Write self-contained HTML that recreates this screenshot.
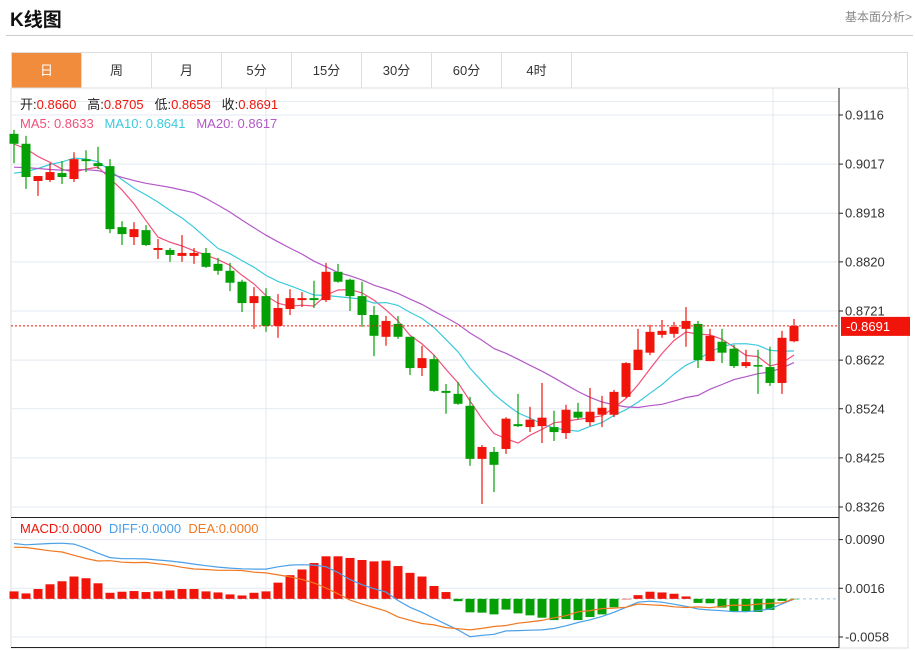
<!DOCTYPE html>
<html><head><meta charset="utf-8">
<style>
body{margin:0;background:#fff;font-family:"Liberation Sans","Noto Sans CJK SC",sans-serif;}
#wrap{position:relative;width:915px;height:650px;overflow:hidden;}
.title{position:absolute;left:10px;top:5px;font-size:19px;font-weight:bold;color:#111;}
.more{position:absolute;right:3px;top:8px;font-size:12px;color:#888;}
.sep{position:absolute;left:6px;top:35px;width:907px;height:1px;background:#ccc;}
.tabs{position:absolute;left:11px;top:52px;width:897px;height:35px;border:1px solid #ddd;border-bottom:none;box-sizing:border-box;display:flex;}
.tab{width:70px;height:35px;border-right:1px solid #ddd;box-sizing:border-box;text-align:center;line-height:35px;font-size:13px;color:#333;}
.tab.on{background:#f08c3c;color:#fff;}
svg{position:absolute;left:0;top:0;}
</style></head><body>
<div id="wrap">
<div class="title">K线图</div>
<div class="more">基本面分析&gt;</div>
<div class="sep"></div>
<div class="tabs">
<div class="tab on">日</div>
<div class="tab">周</div>
<div class="tab">月</div>
<div class="tab">5分</div>
<div class="tab">15分</div>
<div class="tab">30分</div>
<div class="tab">60分</div>
<div class="tab">4时</div>
</div>
<svg id="chart" width="915" height="650"></svg>
</div>
<script>
const opens=[.9078,.9058,.8983,.8985,.8999,.8987,.9027,.9019,.9013,.8890,.8870,.8884,.8844,.8844,.8832,.8832,.8838,.8816,.8802,.8780,.8737,.8751,.8691,.8725,.8743,.8747,.8743,.8800,.8784,.8751,.8713,.8669,.8695,.8669,.8606,.8624,.8560,.8554,.8530,.8423,.8437,.8443,.8493,.8487,.8489,.8487,.8475,.8518,.8497,.8512,.8512,.8548,.8602,.8637,.8673,.8675,.8685,.8695,.8620,.8659,.8645,.8610,.8612,.8608,.8576,.8660];
const highs=[.9086,.9074,.8993,.9019,.9023,.9041,.9045,.9052,.9027,.8902,.8900,.8894,.8866,.8848,.8874,.8848,.8848,.8828,.8818,.8784,.8769,.8767,.8755,.8765,.8759,.8782,.8818,.8816,.8786,.8780,.8731,.8711,.8711,.8669,.8651,.8632,.8574,.8578,.8548,.8451,.8447,.8507,.8554,.8528,.8576,.8520,.8532,.8536,.8566,.8550,.8562,.8618,.8685,.8693,.8703,.8699,.8729,.8701,.8685,.8685,.8653,.8643,.8643,.8649,.8681,.8705];
const lows=[.9019,.8967,.8953,.8981,.8977,.8981,.9001,.9007,.8878,.8854,.8854,.8852,.8826,.8820,.8820,.8816,.8808,.8794,.8761,.8719,.8685,.8679,.8667,.8713,.8729,.8727,.8739,.8778,.8721,.8689,.8630,.8651,.8665,.8592,.8590,.8558,.8514,.8532,.8409,.8332,.8356,.8433,.8487,.8477,.8455,.8459,.8463,.8502,.8489,.8487,.8507,.8546,.8602,.8632,.8667,.8667,.8649,.8606,.8620,.8616,.8606,.8606,.8554,.8570,.8554,.8658];
const closes=[.9058,.8991,.8993,.9001,.8991,.9027,.9023,.9013,.8886,.8876,.8886,.8854,.8848,.8834,.8838,.8838,.8810,.8802,.8778,.8737,.8751,.8691,.8727,.8747,.8747,.8743,.8800,.8780,.8751,.8713,.8671,.8701,.8669,.8606,.8626,.8560,.8556,.8534,.8423,.8447,.8411,.8504,.8489,.8502,.8506,.8477,.8522,.8506,.8518,.8526,.8558,.8616,.8643,.8679,.8681,.8689,.8701,.8622,.8671,.8637,.8610,.8618,.8610,.8576,.8667,.8691];
const priorCloses=[.9010,.9030,.9040,.9020,.9000,.9030,.9050,.9020,.9010,.9020,.8960,.8930,.8920,.8940,.8950,.9040,.9070,.9060,.9060];
const priceTicks=[0.9116,0.9017,0.8918,0.8820,0.8721,0.8622,0.8524,0.8425,0.8326];
const macdHist=[.00113,.00082,.00149,.00221,.00267,.00339,.00313,.00236,.00092,.00108,.00118,.00103,.00113,.00128,.00149,.00149,.00113,.00097,.00067,.00051,.00092,.00113,.00246,.00359,.00446,.00544,.00646,.00646,.00621,.00590,.00569,.00580,.00498,.00395,.00339,.00195,.00103,-.00036,-.00205,-.00210,-.00236,-.00164,-.00221,-.00251,-.00287,-.00323,-.00308,-.00323,-.00277,-.00236,-.00128,0,.00056,.00108,.00097,.00077,.00036,-.00062,-.00067,-.00133,-.00200,-.00190,-.00200,-.00169,-.00031,-.00005];
const diffLine=[.00841,.00821,.00831,.00841,.00846,.00831,.0077,.00693,.00626,.0061,.0061,.00605,.0059,.00575,.00554,.00528,.00503,.00482,.00467,.00457,.00451,.00451,.00487,.00513,.00518,.00513,.00487,.004,.00292,.00215,.00154,.00103,-.00026,-.00128,-.00205,-.00298,-.00385,-.00472,-.00575,-.00554,-.00539,-.00487,-.00482,-.00477,-.00472,-.00451,-.0041,-.00359,-.00318,-.00267,-.00205,-.00128,-.00051,-.00036,-.00051,-.00082,-.00113,-.00154,-.00169,-.0018,-.00195,-.00195,-.0018,-.00154,-.00077,-.00005];
const deaLine=[.00784,.0078,.00756,.0073,.00712,.00661,.00613,.00575,.0058,.00556,.00551,.00553,.00533,.00511,.00479,.00453,.00446,.00433,.00433,.00431,.00405,.00394,.00364,.00333,.00295,.00241,.00164,.00077,-.00019,-.0008,-.00131,-.00187,-.00275,-.00326,-.00375,-.00396,-.00437,-.00454,-.00472,-.00449,-.00421,-.00405,-.00371,-.00351,-.00328,-.00289,-.00256,-.00197,-.00179,-.00149,-.00141,-.00128,-.00079,-.0009,-.001,-.00121,-.00131,-.00123,-.00135,-.00113,-.00095,-.001,-.0008,-.00069,-.00061,-.00002];
const macdTicks=[0.0090,0.0016,-0.0058];

const svg=document.getElementById('chart');
const NS='http://www.w3.org/2000/svg';
function mk(tag,attrs,parent){const e=document.createElementNS(NS,tag);for(const k in attrs)e.setAttribute(k,attrs[k]);(parent||svg).appendChild(e);return e;}
const L=11,R=839;
const xOf=i=>14+12*i;
const yP=p=>115+(0.9116-p)/0.0790*392;
const yM=v=>588.3-(v-0.0016)/0.0074*48.7;
const RED='#f0140a',GREEN='#05a005';

// frame
let e=mk('rect',{x:11,y:88,width:897,height:560,fill:'none',stroke:'#ddd'});

// gridlines
priceTicks.forEach(t=>{const g=mk('line',{x1:L,x2:R,y1:yP(t),y2:yP(t),stroke:'#e3eaf0'});
});
macdTicks.forEach(t=>{const g=mk('line',{x1:L,x2:R,y1:yM(t),y2:yM(t),stroke:'#e3eaf0'});
});
[266,773].forEach(x=>{const g=mk('line',{x1:x,x2:x,y1:88,y2:648,stroke:'#e3eaf0'});
});
e=mk('line',{x1:L,x2:R,y1:101.5,y2:101.5,stroke:'#e3eaf0'});


// MAs
function ma(n){const all=priorCloses.concat(closes);return closes.map((c,i)=>{const j=i+priorCloses.length;let s=0;for(let k=j-n+1;k<=j;k++)s+=all[k];return s/n;});}
[[5,'#f0507a','ma5-line'],[10,'#3ccadc','ma10-line'],[20,'#b458c8','ma20-line']].forEach(([n,c,name])=>{
const v=ma(n);const p=mk('polyline',{points:v.map((m,i)=>xOf(i)+','+yP(m).toFixed(1)).join(' '),fill:'none',stroke:c,'stroke-width':1.2});
});

// candles
closes.forEach((c,i)=>{
const o=opens[i],up=c>=o,col=up?RED:GREEN,x=xOf(i);
const w=mk('line',{x1:x,x2:x,y1:yP(highs[i]),y2:yP(lows[i]),stroke:col,'stroke-width':1.2});

const top=yP(Math.max(o,c)),h=Math.max(1.5,yP(Math.min(o,c))-top);
const b=mk('rect',{x:x-4.5,y:top,width:9,height:h,fill:col});

});

// last price line
const lastP=closes[closes.length-1];
e=mk('line',{x1:L,x2:R,y1:yP(lastP),y2:yP(lastP),stroke:RED,'stroke-dasharray':'2,2'});


// MACD
const zero=yM(0);
e=mk('line',{x1:L,x2:R,y1:zero,y2:zero,stroke:'#9cc8e8','stroke-dasharray':'3,3'});

macdHist.forEach((v,i)=>{const y=yM(v);const b=mk('rect',{x:xOf(i)-4.5,y:Math.min(y,zero),width:9,height:Math.max(0.5,Math.abs(y-zero)),fill:v>=0?RED:GREEN});
});
e=mk('polyline',{points:diffLine.map((v,i)=>xOf(i)+','+yM(v).toFixed(1)).join(' '),fill:'none',stroke:'#4aa0e8','stroke-width':1.2});

e=mk('polyline',{points:deaLine.map((v,i)=>xOf(i)+','+yM(v).toFixed(1)).join(' '),fill:'none',stroke:'#f07820','stroke-width':1.2});


// axes
e=mk('line',{x1:R,x2:R,y1:88,y2:648,stroke:'#222'});

e=mk('line',{x1:L,x2:R,y1:517.5,y2:517.5,stroke:'#222'});

e=mk('line',{x1:L,x2:R,y1:647.5,y2:647.5,stroke:'#222'});

function tick(y,label,name){
const t=mk('line',{x1:R,x2:R+4,y1:y,y2:y,stroke:'#222'});

const tx=mk('text',{x:R+6,y:y+4.5,'font-size':13,fill:'#333'});tx.textContent=label;
}
priceTicks.forEach(t=>tick(yP(t),t.toFixed(4),'price-tick-label'));
macdTicks.forEach(t=>tick(yM(t),t.toFixed(4),'macd-tick-label'));

// last price label
e=mk('rect',{x:841,y:yP(lastP)-9,width:69,height:19,fill:RED});

e=mk('text',{x:846,y:yP(lastP)+5,'font-size':13,fill:'#fff'});e.textContent='-'+lastP.toFixed(4);


// legends
function legend(y,parts,name){const t=mk('text',{x:20,y:y,'font-size':13});

parts.forEach(([s,c])=>{const ts=mk('tspan',{fill:c},t);ts.textContent=s;});}
legend(109,[['开:','#222'],['0.8660','#f0140a'],['   高:','#222'],['0.8705','#f0140a'],['   低:','#222'],['0.8658','#f0140a'],['   收:','#222'],['0.8691','#f0140a']],'ohlc-legend');
legend(128,[['MA5: 0.8633','#f0507a'],['   MA10: 0.8641','#3ccadc'],['   MA20: 0.8617','#b458c8']],'ma-legend');
legend(533,[['MACD:0.0000','#f0140a'],['  DIFF:0.0000','#4aa0e8'],['  DEA:0.0000','#f07820']],'macd-legend');
svg.querySelectorAll('text').forEach(t=>t.setAttribute('xml:space','preserve'));
svg.querySelectorAll('text').forEach(t=>t.style.whiteSpace='pre');
</script>
</body></html>
